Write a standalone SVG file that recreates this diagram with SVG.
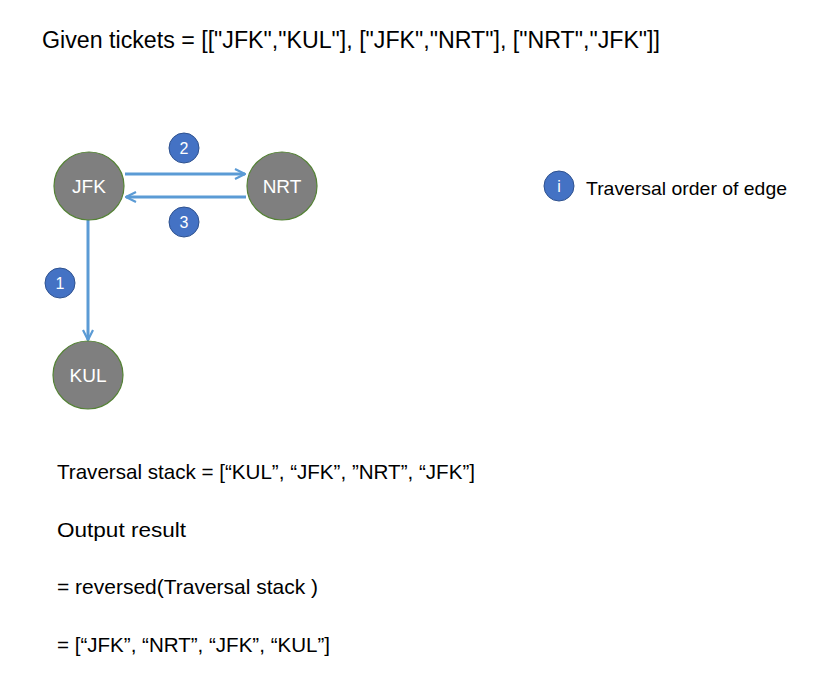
<svg xmlns="http://www.w3.org/2000/svg" width="832" height="684" viewBox="0 0 832 684">
<style>
text{font-family:"Liberation Sans","Open Sans",sans-serif}
.t{font-size:21px;fill:#000}
.node{fill:#7f7f7f;stroke:#548235;stroke-width:1.2}
.nl{font-size:19px;fill:#fff;text-anchor:middle}
.badge{fill:#4472c4;stroke:#2f528f;stroke-width:1}
.bl{font-size:16px;fill:#fff;text-anchor:middle}
.edge{stroke:#5b9bd5;stroke-width:3;fill:none}
</style>
<defs>
<marker id="arr" viewBox="0 0 12 12" refX="11" refY="6" markerWidth="12" markerHeight="12" markerUnits="userSpaceOnUse" orient="auto">
<path d="M1,1 L11,6 L1,11" fill="none" stroke="#5b9bd5" stroke-width="2.2"/>
</marker>
</defs>
<rect width="832" height="684" fill="#fff"/>
<text class="t" x="42" y="48" font-size="23" textLength="618" lengthAdjust="spacingAndGlyphs" style="font-size:23px">Given tickets = [["JFK","KUL"], ["JFK","NRT"], ["NRT","JFK"]]</text>
<g id="connectors">
<line class="edge" x1="125" y1="174" x2="245" y2="174" marker-end="url(#arr)"/>
<line class="edge" x1="246" y1="197" x2="126" y2="197" marker-end="url(#arr)"/>
<line class="edge" x1="88" y1="220" x2="88" y2="340" marker-end="url(#arr)"/>
</g>
<g id="node-JFK"><ellipse class="node" cx="89" cy="186" rx="35" ry="34"/><text class="nl" x="89" y="193">JFK</text></g>
<g id="node-NRT"><ellipse class="node" cx="282" cy="186" rx="35" ry="34"/><text class="nl" x="282" y="193">NRT</text></g>
<g id="node-KUL"><ellipse class="node" cx="88" cy="375" rx="35" ry="34"/><text class="nl" x="88" y="382">KUL</text></g>
<g id="badge-2"><circle class="badge" cx="184" cy="148" r="15"/><text class="bl" x="184" y="154">2</text></g>
<g id="badge-3"><circle class="badge" cx="184" cy="222" r="15"/><text class="bl" x="184" y="228">3</text></g>
<g id="badge-1"><circle class="badge" cx="60" cy="283" r="15"/><text class="bl" x="60" y="289">1</text></g>
<g id="legend"><circle class="badge" cx="559" cy="186" r="15"/><text class="bl" x="559" y="192">i</text>
<text class="t" x="586" y="195" textLength="201" lengthAdjust="spacingAndGlyphs" style="font-size:19px">Traversal order of edge</text></g>
<text class="t" x="57" y="479" textLength="418" lengthAdjust="spacingAndGlyphs">Traversal stack = [“KUL”, “JFK”, ”NRT”, “JFK”]</text>
<text class="t" x="57" y="537" textLength="129" lengthAdjust="spacingAndGlyphs">Output result</text>
<text class="t" x="57" y="594" textLength="261" lengthAdjust="spacingAndGlyphs">= reversed(Traversal stack )</text>
<text class="t" x="57" y="652" textLength="273" lengthAdjust="spacingAndGlyphs">= [“JFK”, “NRT”, “JFK”, “KUL”]</text>
</svg>
